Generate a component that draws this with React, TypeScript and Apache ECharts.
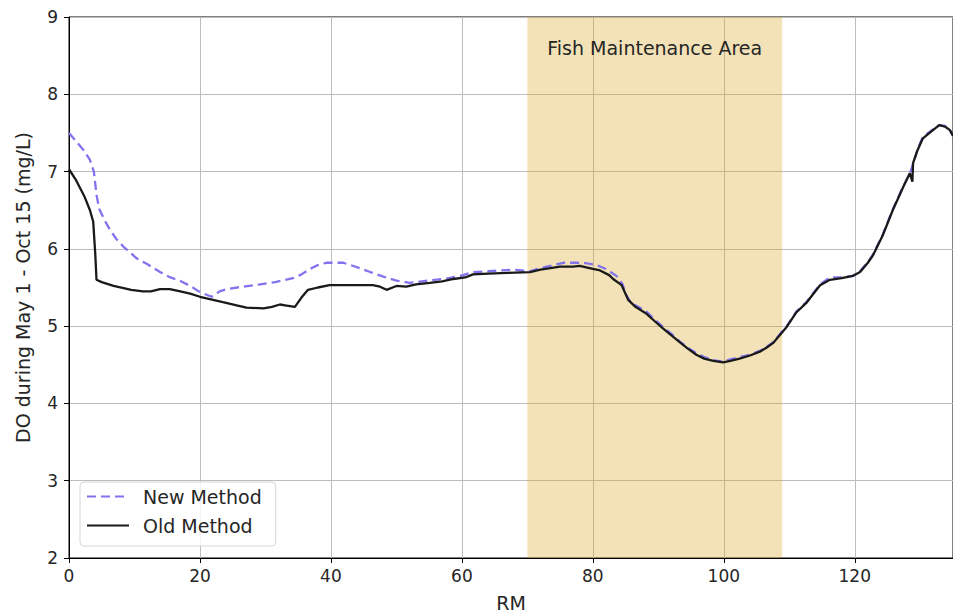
import React, { useEffect, useRef } from "react";
import * as echarts from "echarts";

const newRM = [0, 1, 2.2, 3.2, 3.8, 4.2, 4.6, 5.5, 6.3, 7.3, 8.3, 10.3, 12, 13.9, 15.5, 16.9, 18.5, 20, 21.8, 23, 24.1, 26.5, 29.2, 31.5, 34.2, 35.5, 36.8, 38, 39.3, 41.9, 43, 44.4, 46, 48, 50, 52, 55, 58, 60.2, 61.7, 64, 67.8, 70.4, 72, 74, 75.5, 78.5, 80.6, 82, 83.6, 84.5, 85.1, 86, 86.5, 88.2, 89.5, 90.7, 92, 93.3, 94.5, 95.8, 97, 98.4, 99.9, 101, 102.4, 104, 105.5, 106.5, 107.5, 108.5, 109.6, 111.1, 112.6, 113.5, 114.7, 116.2, 118, 119.7, 120.8, 122, 122.8, 124.3, 125.8, 127.4, 128.4, 128.9, 129.6, 130.4, 131.7, 132.9, 133.8, 134.5, 135];
const newDO = [7.5, 7.4, 7.28, 7.15, 7.0, 6.7, 6.52, 6.36, 6.24, 6.12, 6.03, 5.88, 5.8, 5.7, 5.63, 5.59, 5.52, 5.44, 5.38, 5.45, 5.48, 5.51, 5.54, 5.57, 5.62, 5.67, 5.74, 5.79, 5.82, 5.82, 5.79, 5.75, 5.7, 5.64, 5.59, 5.56, 5.59, 5.62, 5.66, 5.7, 5.71, 5.73, 5.71, 5.75, 5.79, 5.82, 5.82, 5.79, 5.74, 5.65, 5.55, 5.4, 5.28, 5.27, 5.19, 5.08, 4.99, 4.9, 4.8, 4.72, 4.65, 4.6, 4.56, 4.54, 4.57, 4.6, 4.63, 4.68, 4.73, 4.79, 4.89, 5.0, 5.19, 5.31, 5.41, 5.54, 5.63, 5.63, 5.65, 5.71, 5.83, 5.93, 6.19, 6.51, 6.81, 6.97, 7.1, 7.29, 7.45, 7.53, 7.6, 7.59, 7.54, 7.47];

const oldRM = [0, 1, 2.4, 3.2, 3.7, 4.0, 4.2, 5, 6.8, 8.5, 9.5, 11.3, 12.5, 13.9, 15.4, 17, 18.5, 20, 22, 23.5, 25.6, 27.1, 29.7, 31, 32.2, 33, 34.5, 35.5, 36.5, 38, 39.8, 42, 44.4, 46.4, 47.5, 48.5, 50, 51.5, 53, 55.1, 57, 58.7, 60.5, 61.7, 64, 67, 70.4, 72, 75, 77, 78, 80, 81.1, 82.5, 83.1, 84.4, 85.4, 86.5, 88.2, 89.5, 90.7, 92, 93.3, 94.5, 95.8, 97, 98.4, 99.9, 101, 102.4, 104, 105.5, 106.5, 107.5, 108.5, 109.6, 111.1, 112.6, 113.5, 114.7, 116.2, 118, 119.7, 120.8, 122, 122.8, 124.3, 125.8, 127.4, 128.4, 128.8, 128.9, 129.6, 130.4, 131.7, 132.9, 133.8, 134.5, 135];
const oldDO = [7.03, 6.9, 6.67, 6.5, 6.35, 5.95, 5.6, 5.57, 5.52, 5.49, 5.47, 5.45, 5.45, 5.48, 5.48, 5.45, 5.42, 5.38, 5.34, 5.31, 5.27, 5.24, 5.23, 5.25, 5.28, 5.27, 5.25, 5.37, 5.47, 5.5, 5.53, 5.53, 5.53, 5.53, 5.51, 5.47, 5.52, 5.51, 5.54, 5.56, 5.58, 5.61, 5.63, 5.67, 5.68, 5.69, 5.7, 5.73, 5.77, 5.77, 5.78, 5.74, 5.72, 5.66, 5.61, 5.53, 5.34, 5.25, 5.16, 5.06, 4.97, 4.88, 4.79, 4.71, 4.63, 4.58, 4.55, 4.53, 4.55, 4.58, 4.62, 4.67, 4.72, 4.78, 4.88, 4.99, 5.18, 5.3, 5.4, 5.53, 5.6, 5.62, 5.65, 5.7, 5.82, 5.92, 6.18, 6.5, 6.8, 6.98, 6.87, 7.11, 7.28, 7.43, 7.52, 7.6, 7.58, 7.54, 7.46];

const areaRange = [70, 108.9];
const areaLabel = "Fish Maintenance Area";
const xTicks = [0, 20, 40, 60, 80, 100, 120];

const FONT = "DejaVu Sans";
const TEXT = "#262626";

export default function App() {
  const ref = useRef<HTMLDivElement>(null);
  useEffect(() => {
    if (!ref.current) return;
    const chart = echarts.init(ref.current, null, { renderer: "svg" });
    chart.setOption({
      animation: false,
      textStyle: { fontFamily: FONT },
      grid: {
        left: 69,
        right: 0,
        top: 17,
        bottom: 58,
        show: true,
        borderColor: "#000",
        borderWidth: 1,
        outerBoundsMode: "none",
        containLabel: false,
      },
      legend: {
        orient: "vertical",
        left: 80,
        top: 482,
        itemWidth: 42,
        itemHeight: 20,
        itemGap: 10,
        padding: [5, 14, 11, 6],
        borderColor: "#d6d6d6",
        borderWidth: 1,
        borderRadius: 4,
        backgroundColor: "rgba(255,255,255,0.8)",
        itemStyle: { opacity: 0 },
        textStyle: { fontFamily: FONT, fontSize: 19, color: TEXT, padding: [0, 0, 0, 9] },
        data: ["New Method", "Old Method"],
      },
      xAxis: {
        type: "value",
        min: 0,
        max: 135,
        interval: 20,
        name: "RM",
        nameLocation: "middle",
        nameGap: 35,
        nameTextStyle: { fontFamily: FONT, fontSize: 19, color: TEXT },
        axisLine: { show: true, lineStyle: { color: "#000", width: 1 } },
        axisTick: { show: true, length: 5, lineStyle: { color: "#000" } },
        axisLabel: {
          fontFamily: FONT,
          fontSize: 17,
          color: TEXT,
          margin: 9,
          formatter: (v: number) => (xTicks.includes(v) ? String(v) : ""),
        },
        splitLine: { show: true, lineStyle: { color: "#bdbdbd", width: 1 } },
      },
      yAxis: {
        type: "value",
        min: 2,
        max: 9,
        interval: 1,
        name: "DO during May 1 - Oct 15 (mg/L)",
        nameLocation: "middle",
        nameGap: 37,
        nameTextStyle: { fontFamily: FONT, fontSize: 19, color: TEXT },
        axisLine: { show: true, lineStyle: { color: "#000", width: 1 } },
        axisTick: { show: true, length: 5, lineStyle: { color: "#000" } },
        axisLabel: { fontFamily: FONT, fontSize: 17, color: TEXT, margin: 11 },
        splitLine: { show: true, lineStyle: { color: "#bdbdbd", width: 1 } },
      },
      series: [
        {
          name: "New Method",
          type: "line",
          data: newRM.map((x, i) => [x, newDO[i]]),
          showSymbol: false,
          symbol: "none",
          lineStyle: { color: "#8273ef", width: 2.3, type: [9, 5] },
          itemStyle: { color: "#8273ef" },
          z: 3,
          markArea: {
            silent: true,
            itemStyle: { color: "rgba(218,165,32,0.32)" },
            label: {
              show: true,
              position: "insideTop",
              distance: 21,
              fontFamily: FONT,
              fontSize: 19,
              color: TEXT,
            },
            data: [[{ xAxis: areaRange[0], name: areaLabel }, { xAxis: areaRange[1] }]],
          },
        },
        {
          name: "Old Method",
          type: "line",
          data: oldRM.map((x, i) => [x, oldDO[i]]),
          showSymbol: false,
          symbol: "none",
          lineStyle: { color: "#1a1a1a", width: 2.3 },
          itemStyle: { color: "#1a1a1a" },
          z: 4,
        },
      ],
    });
    return () => chart.dispose();
  }, []);
  return <div ref={ref} style={{ width: 953, height: 616, position: "absolute", left: 0, top: 0 }} />;
}
